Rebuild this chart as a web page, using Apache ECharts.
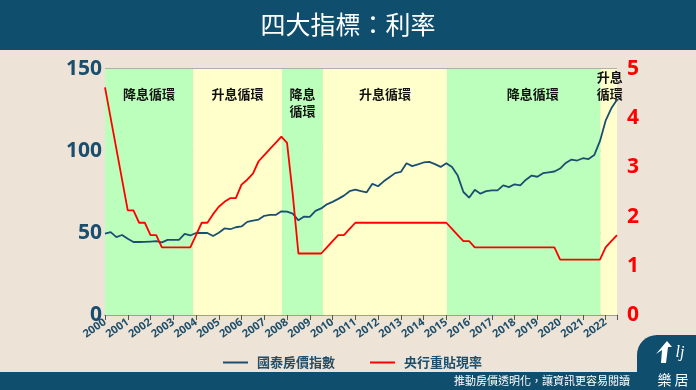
<!DOCTYPE html>
<html>
<head>
<meta charset="utf-8">
<script src="https://cdn.jsdelivr.net/npm/echarts@6/dist/echarts.min.js"></script>
<style>
html,body{margin:0;padding:0;background:#ede3d6;}
#c{width:696px;height:390px;}
</style>
</head>
<body>
<div id="c"></div>
<script>
// Year tick labels (one per 4 quarters)
var yearLabels = ['2000','2001','2002','2003','2004','2005','2006','2007','2008','2009','2010','2011','2012','2013','2014','2015','2016','2017','2018','2019','2020','2021','2022'];

// 國泰房價指數, quarterly from 2000Q1 (left axis)
var priceIndex = [49.6,50.5,47.5,48.8,46.5,44.5,44.5,44.6,44.8,45.0,
  44.3,45.8,45.8,45.8,49.5,48.5,50.0,50.0,50.0,48.2,
  50.2,52.8,52.3,53.5,54.0,56.8,57.5,58.2,60.5,61.0,
  61.0,63.2,63.0,61.8,57.7,60.0,59.8,63.5,65.0,67.5,
  69.0,70.8,72.8,75.5,76.5,75.5,74.8,80.0,78.5,81.5,
  84.0,86.5,87.2,92.5,90.8,91.8,93.0,93.4,92.0,90.3,
  92.6,90.2,85.0,75.0,71.5,76.3,74.0,75.5,76.0,76.0,
  79.0,78.0,79.7,79.1,82.5,85.0,84.3,86.5,87.0,87.5,
  89.3,92.7,94.8,94.2,95.6,95.1,97.5,106.0,118.5,126.0,131.3];

// 央行重貼現率 (%), quarterly from 2000Q1 (right axis)
var discountRate = [4.625,4.0,3.375,2.75,2.125,2.125,1.875,1.875,1.625,1.625,
  1.375,1.375,1.375,1.375,1.375,1.375,1.625,1.875,1.875,2.05,
  2.2,2.3,2.375,2.375,2.65,2.75,2.875,3.125,3.25,3.375,
  3.5,3.625,3.5,2.45,1.25,1.25,1.25,1.25,1.25,1.375,
  1.5,1.625,1.625,1.75,1.875,1.875,1.875,1.875,1.875,1.875,
  1.875,1.875,1.875,1.875,1.875,1.875,1.875,1.875,1.875,1.875,
  1.875,1.75,1.625,1.5,1.5,1.375,1.375,1.375,1.375,1.375,
  1.375,1.375,1.375,1.375,1.375,1.375,1.375,1.375,1.375,1.375,
  1.125,1.125,1.125,1.125,1.125,1.125,1.125,1.125,1.375,1.5,1.625];

// Rate cycles: [start quarter index, end quarter index, label, kind]
var cycleStart = [0, 15.5, 31.1, 38.3, 60.1, 87.1];
var cycleEnd   = [15.5, 31.1, 38.3, 60.1, 87.1, 90];
var cycleName  = ['降息循環','升息循環','降息\n循環','升息循環','降息循環','升息\n循環'];
var cycleCut   = [true, false, true, false, true, false];

var seriesNames = ['國泰房價指數','央行重貼現率'];

function pairs(arr){ return arr.map(function(v,i){ return [i, v]; }); }

var cjk = "'Noto Sans CJK TC','Noto Sans',sans-serif";
var num = "'Noto Sans','Open Sans',sans-serif";

var areas = cycleStart.map(function(s, i){
  var lab = {show:true, position:'insideTop', distance:17, color:'#111', fontWeight:'bold',
             fontSize:13, lineHeight:17, fontFamily:cjk};
  if (i === 4) lab.offset = [9, 0];
  if (i === 5) { lab.distance = 0; lab.offset = [1, 0]; }
  return [
    {xAxis: s, itemStyle:{color: cycleCut[i] ? '#bcffbc' : '#ffffcc'}, name: cycleName[i], label: lab},
    {xAxis: cycleEnd[i]}
  ];
});

var chart = echarts.init(document.getElementById('c'), null, {renderer:'canvas'});
chart.setOption({
  backgroundColor:'#ede3d6',
  animation:false,
  title:{text:'四大指標：利率', left:'center', top:7,
    textStyle:{color:'#ffffff', fontSize:25, fontWeight:'normal', fontFamily:cjk}},
  graphic:[
    {type:'rect', z:-10, shape:{x:0,y:0,width:696,height:50}, style:{fill:'#0f4e6d'}},
    {type:'rect', z:-10, shape:{x:0,y:372,width:696,height:18}, style:{fill:'#0f4e6d'}},
    {type:'rect', z:-10, shape:{x:637,y:335,width:59,height:55,r:[20,0,0,0]}, style:{fill:'#0f4e6d'}},
    {type:'text', z:10, style:{x:630, y:381, text:'推動房價透明化，讓資訊更容易閱讀', fill:'#ffffff',
      font:'11px '+cjk, textAlign:'right', textVerticalAlign:'middle'}},
    {type:'text', z:10, style:{x:673, y:380, text:'樂 居', fill:'#ffffff',
      font:'14px '+cjk, textAlign:'center', textVerticalAlign:'middle'}},
    {type:'polygon', z:10, shape:{points:[[656,354],[667,341],[672,347],[668,347],[666,363],[661,363],[662,350]]},
      style:{fill:'#ffffff'}},
    {type:'text', z:10, style:{x:680, y:353, text:'lj', fill:'#ffffff',
      font:'italic 16px serif', textAlign:'center', textVerticalAlign:'middle'}}
  ],
  legend:{
    data:seriesNames, left:218, top:351, icon:'rect', itemWidth:25, itemHeight:2, itemGap:35,
    textStyle:{color:'#1d4e6b', fontWeight:'bold', fontSize:13, fontFamily:cjk, padding:[0,0,0,4]}
  },
  grid:{left:105, right:79, top:69, bottom:75, containLabel:false},
  xAxis:{
    type:'value', min:0, max:90, interval:4,
    axisLine:{show:true, lineStyle:{color:'#999', width:1.5}},
    axisTick:{show:true, length:5, lineStyle:{color:'#555'}},
    splitLine:{show:false},
    axisLabel:{rotate:35, margin:6, color:'#1d4e6b', fontWeight:'bold', fontSize:11, fontFamily:num,
      formatter:function(v){ return (v % 4 === 0 && yearLabels[v/4]) ? yearLabels[v/4] : ''; }}
  },
  yAxis:[
    {type:'value', min:0, max:150, interval:50, position:'left',
      axisLine:{show:false}, axisTick:{show:false},
      splitLine:{show:true, lineStyle:{color:'#9c9c9c', width:1.5}},
      axisLabel:{margin:3, color:'#1a4e6e', fontWeight:'bold', fontSize:21, fontFamily:num}},
    {type:'value', min:0, max:5, interval:1, position:'right',
      axisLine:{show:false}, axisTick:{show:false}, splitLine:{show:false},
      axisLabel:{margin:10, color:'#ff0000', fontWeight:'bold', fontSize:21, fontFamily:num}}
  ],
  series:[
    {name:seriesNames[0], type:'line', yAxisIndex:0, data:pairs(priceIndex), symbol:'none',
      lineStyle:{color:'#1a4f72', width:1.8}, itemStyle:{color:'#1a4f72'}, z:4,
      markArea:{silent:true, data:areas}},
    {name:seriesNames[1], type:'line', yAxisIndex:1, data:pairs(discountRate), symbol:'none',
      lineStyle:{color:'#ff0000', width:1.8}, itemStyle:{color:'#ff0000'}, z:5}
  ]
});
</script>
</body>
</html>
